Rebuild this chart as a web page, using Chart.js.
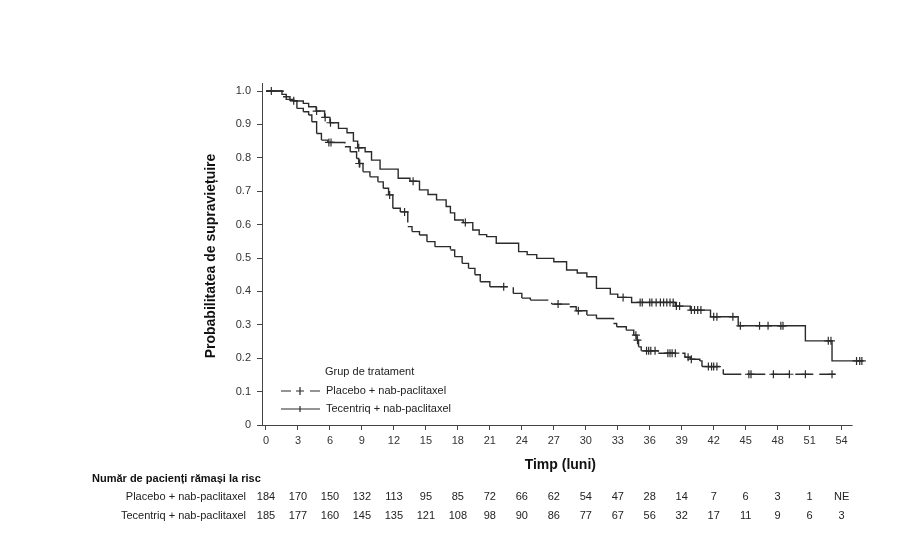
<!DOCTYPE html>
<html>
<head>
<meta charset="utf-8">
<script src="https://cdn.jsdelivr.net/npm/chart.js@4.4.1/dist/chart.umd.min.js"></script>
<style>
  html, body { margin: 0; padding: 0; background: #fff; }
  #wrap { width: 920px; height: 550px; }
</style>
</head>
<body>
<div id="wrap"><canvas id="km" width="920" height="550"></canvas></div>
<script>
/* ── Data ────────────────────────────────────────────────────────── */

var X_TICKS = [0, 3, 6, 9, 12, 15, 18, 21, 24, 27, 30, 33, 36, 39, 42, 45, 48, 51, 54];
var Y_TICKS = [0, 0.1, 0.2, 0.3, 0.4, 0.5, 0.6, 0.7, 0.8, 0.9, 1.0];

var SERIES_NAMES = ['Placebo + nab-paclitaxel', 'Tecentriq + nab-paclitaxel'];

/* Placebo: time of each drop (months) and survival after it */
var plaTimes = [0, 1.6, 2.25, 2.9, 3.5, 4.0, 4.3, 4.75, 5.2, 5.8, 7.4, 7.9, 8.5, 8.7, 9.1, 9.75,
  10.5, 11.0, 11.5, 11.9, 12.6, 13.3, 13.7, 14.4, 15.1, 15.85, 17.3, 17.7, 18.4, 19.0, 19.6,
  20.1, 21.0, 23.2, 24.0, 24.8, 26.8, 28.5, 29.1, 30.1, 31.0, 32.6, 32.9, 33.8, 34.5, 34.8,
  34.95, 35.2, 36.8, 39.3, 39.8, 40.7, 40.9, 42.9, 53.4];
var plaSurv = [1.0, 0.983, 0.971, 0.948, 0.938, 0.928, 0.908, 0.873, 0.853, 0.846, 0.833, 0.818,
  0.798, 0.783, 0.758, 0.743, 0.728, 0.709, 0.689, 0.649, 0.638, 0.594, 0.579, 0.569, 0.549,
  0.534, 0.524, 0.504, 0.484, 0.469, 0.45, 0.429, 0.414, 0.394, 0.38, 0.374, 0.362, 0.354,
  0.342, 0.329, 0.319, 0.304, 0.294, 0.284, 0.269, 0.254, 0.234, 0.222, 0.215, 0.203, 0.197,
  0.192, 0.175, 0.152, 0.152];
var plaCensor = [2.6, 5.9, 6.1, 8.75, 8.8, 11.6, 13.0, 22.3, 27.4, 29.3, 34.7, 34.85, 35.7, 35.9,
  36.1, 36.5, 37.7, 37.9, 38.1, 38.4, 39.6, 39.9, 41.5, 41.8, 42.0, 42.3, 45.3, 45.5, 47.6,
  49.1, 50.6, 53.1];

/* Tecentriq: time of each drop (months) and survival after it */
var tecTimes = [0, 1.5, 1.9, 2.6, 3.5, 4.0, 4.7, 5.5, 6.0, 6.8, 7.6, 8.2, 8.6, 9.3, 9.9, 10.7,
  12.4, 13.5, 14.4, 15.2, 16.0, 16.9, 17.3, 17.7, 18.5, 19.4, 20.0, 20.7, 21.6, 23.7, 24.5,
  25.4, 27.0, 28.2, 29.2, 30.1, 31.0, 32.3, 33.0, 34.3, 38.4, 39.8, 41.7, 44.3, 50.6, 53.1, 56.0];
var tecSurv = [1.0, 0.99, 0.975, 0.97, 0.963, 0.953, 0.94, 0.921, 0.905, 0.888, 0.875, 0.85,
  0.83, 0.818, 0.793, 0.766, 0.739, 0.73, 0.704, 0.69, 0.674, 0.654, 0.635, 0.614, 0.606,
  0.584, 0.57, 0.564, 0.544, 0.519, 0.51, 0.499, 0.489, 0.464, 0.455, 0.444, 0.409, 0.392,
  0.382, 0.367, 0.356, 0.344, 0.324, 0.297, 0.252, 0.192, 0.192];
var tecCensor = [0.5, 4.75, 5.55, 6.05, 8.7, 13.8, 18.7, 33.5, 35.1, 35.3, 36.0, 36.2, 36.6,
  37.0, 37.3, 37.6, 37.9, 38.2, 38.5, 38.8, 39.9, 40.2, 40.5, 40.8, 42.0, 42.3, 43.8, 44.5,
  46.3, 47.1, 48.3, 48.5, 52.75, 53.0, 55.4, 55.7, 55.9];

/* Number at risk at each x tick */
var plaAtRisk = ['184', '170', '150', '132', '113', '95', '85', '72', '66', '62', '54', '47', '28',
  '14', '7', '6', '3', '1', 'NE'];
var tecAtRisk = ['185', '177', '160', '145', '135', '121', '108', '98', '90', '86', '77', '67', '56',
  '32', '17', '11', '9', '6', '3'];

var X_MIN = -0.375;
var X_MAX = 56.1;
var X_AXIS_END = 55.03;
var Y_MAX = 1.024;

(function () {
  'use strict';

  var FONT = "'Liberation Sans', Arial, sans-serif";
  var LINE_COLOR = '#2b2b2b';
  var AXIS_COLOR = '#444';
  var TEXT_COLOR = '#222';

  /* ── Helpers ─────────────────────────────────────────────────────── */

  function toPoints(times, surv) {
    return times.map(function (t, i) { return { x: t, y: surv[i] }; });
  }

  function survAt(times, surv, t) {
    var s = surv[0];
    for (var i = 0; i < times.length; i++) {
      if (times[i] <= t) s = surv[i];
    }
    return s;
  }

  function censorPoints(censor, times, surv) {
    return censor.map(function (t) { return { x: t, y: survAt(times, surv, t) }; });
  }

  /* Alternate a tiny dash offset so Chart.js strokes every step as its own
     path: the dash pattern then restarts at each step, like the SAS output */
  function restartDash(c) {
    return c.p0DataIndex % 2 ? 0.001 : 0;
  }

  /* ── Extras: x axis line, titles, legend, risk table ─────────────── */

  var extras = {
    id: 'kmExtras',
    afterDraw: function (chart) {
      var ctx = chart.ctx;
      var xs = chart.scales.x;
      var area = chart.chartArea;

      ctx.save();

      /* x axis line stops short of the last censored points */
      ctx.strokeStyle = AXIS_COLOR;
      ctx.lineWidth = 1;
      ctx.beginPath();
      ctx.moveTo(area.left, area.bottom + 0.5);
      ctx.lineTo(xs.getPixelForValue(X_AXIS_END), area.bottom + 0.5);
      ctx.stroke();

      /* axis titles */
      ctx.fillStyle = '#111';
      ctx.font = 'bold 14px ' + FONT;
      ctx.textAlign = 'center';
      ctx.textBaseline = 'middle';
      ctx.fillText('Timp (luni)', (area.left + xs.getPixelForValue(X_AXIS_END)) / 2 + 3, 465);

      ctx.save();
      ctx.translate(211, (area.top + area.bottom) / 2 + 2);
      ctx.rotate(-Math.PI / 2);
      ctx.fillText('Probabilitatea de supraviețuire', 0, 0);
      ctx.restore();

      /* legend */
      ctx.font = '11px ' + FONT;
      ctx.fillStyle = TEXT_COLOR;
      ctx.textAlign = 'left';
      ctx.fillText('Grup de tratament', 325, 372);
      ctx.fillText(SERIES_NAMES[0], 326, 391);
      ctx.fillText(SERIES_NAMES[1], 326, 409);

      ctx.strokeStyle = LINE_COLOR;
      ctx.lineWidth = 1.2;
      ctx.beginPath();
      ctx.moveTo(281, 391); ctx.lineTo(291, 391);
      ctx.moveTo(296, 391); ctx.lineTo(304, 391);
      ctx.moveTo(300, 387); ctx.lineTo(300, 395);
      ctx.moveTo(310, 391); ctx.lineTo(320, 391);
      ctx.moveTo(281, 409); ctx.lineTo(320, 409);
      ctx.moveTo(300, 406); ctx.lineTo(300, 412);
      ctx.stroke();

      /* numbers at risk */
      ctx.fillStyle = '#111';
      ctx.font = 'bold 11px ' + FONT;
      ctx.fillText('Număr de pacienți rămași la risc', 92, 479);

      ctx.fillStyle = TEXT_COLOR;
      ctx.font = '11px ' + FONT;
      ctx.textAlign = 'right';
      ctx.fillText(SERIES_NAMES[0], 246, 497);
      ctx.fillText(SERIES_NAMES[1], 246, 516);

      ctx.textAlign = 'center';
      for (var i = 0; i < X_TICKS.length; i++) {
        var px = xs.getPixelForValue(X_TICKS[i]);
        ctx.fillText(plaAtRisk[i], px, 497);
        ctx.fillText(tecAtRisk[i], px, 516);
      }

      ctx.restore();
    }
  };

  /* ── Chart ───────────────────────────────────────────────────────── */

  var tickFont = { family: FONT, size: 11 };

  new Chart(document.getElementById('km'), {
    type: 'line',
    data: {
      datasets: [
        {
          label: SERIES_NAMES[0],
          data: toPoints(plaTimes, plaSurv),
          stepped: 'before',
          borderColor: LINE_COLOR,
          borderWidth: 1.4,
          borderDash: [18, 6],
          segment: { borderDashOffset: restartDash },
          pointRadius: 0,
          fill: false
        },
        {
          label: SERIES_NAMES[1],
          data: toPoints(tecTimes, tecSurv),
          stepped: 'before',
          borderColor: LINE_COLOR,
          borderWidth: 1.4,
          pointRadius: 0,
          fill: false,
          clip: false
        },
        {
          label: 'censor-pla',
          data: censorPoints(plaCensor, plaTimes, plaSurv),
          showLine: false,
          pointStyle: 'cross',
          pointRadius: 4,
          pointBorderWidth: 1.2,
          pointBorderColor: LINE_COLOR
        },
        {
          label: 'censor-tec',
          data: censorPoints(tecCensor, tecTimes, tecSurv),
          showLine: false,
          pointStyle: 'cross',
          pointRadius: 4,
          pointBorderWidth: 1.2,
          pointBorderColor: LINE_COLOR,
          clip: false
        }
      ]
    },
    options: {
      responsive: false,
      animation: false,
      layout: { padding: { top: 83, right: 56, left: 0, bottom: 0 } },
      plugins: {
        legend: { display: false },
        tooltip: { enabled: false }
      },
      scales: {
        x: {
          type: 'linear',
          min: X_MIN,
          max: X_MAX,
          afterBuildTicks: function (s) {
            s.ticks = X_TICKS.map(function (v) { return { value: v }; });
          },
          afterFit: function (s) { s.height = 125; },
          border: { display: false },
          grid: { drawOnChartArea: false, drawTicks: true, tickLength: 5, color: AXIS_COLOR },
          ticks: { autoSkip: false, maxRotation: 0, padding: 4, color: '#333', font: tickFont }
        },
        y: {
          type: 'linear',
          min: 0,
          max: Y_MAX,
          afterBuildTicks: function (s) {
            s.ticks = Y_TICKS.map(function (v) { return { value: v }; });
          },
          afterFit: function (s) { s.width = 262; },
          border: { display: true, color: AXIS_COLOR, width: 1 },
          grid: { drawOnChartArea: false, drawTicks: true, tickLength: 5, color: AXIS_COLOR },
          ticks: {
            padding: 6,
            color: '#333',
            font: tickFont,
            callback: function (v) { return v === 0 ? '0' : v.toFixed(1); }
          }
        }
      }
    },
    plugins: [extras]
  });
})();
</script>
</body>
</html>
